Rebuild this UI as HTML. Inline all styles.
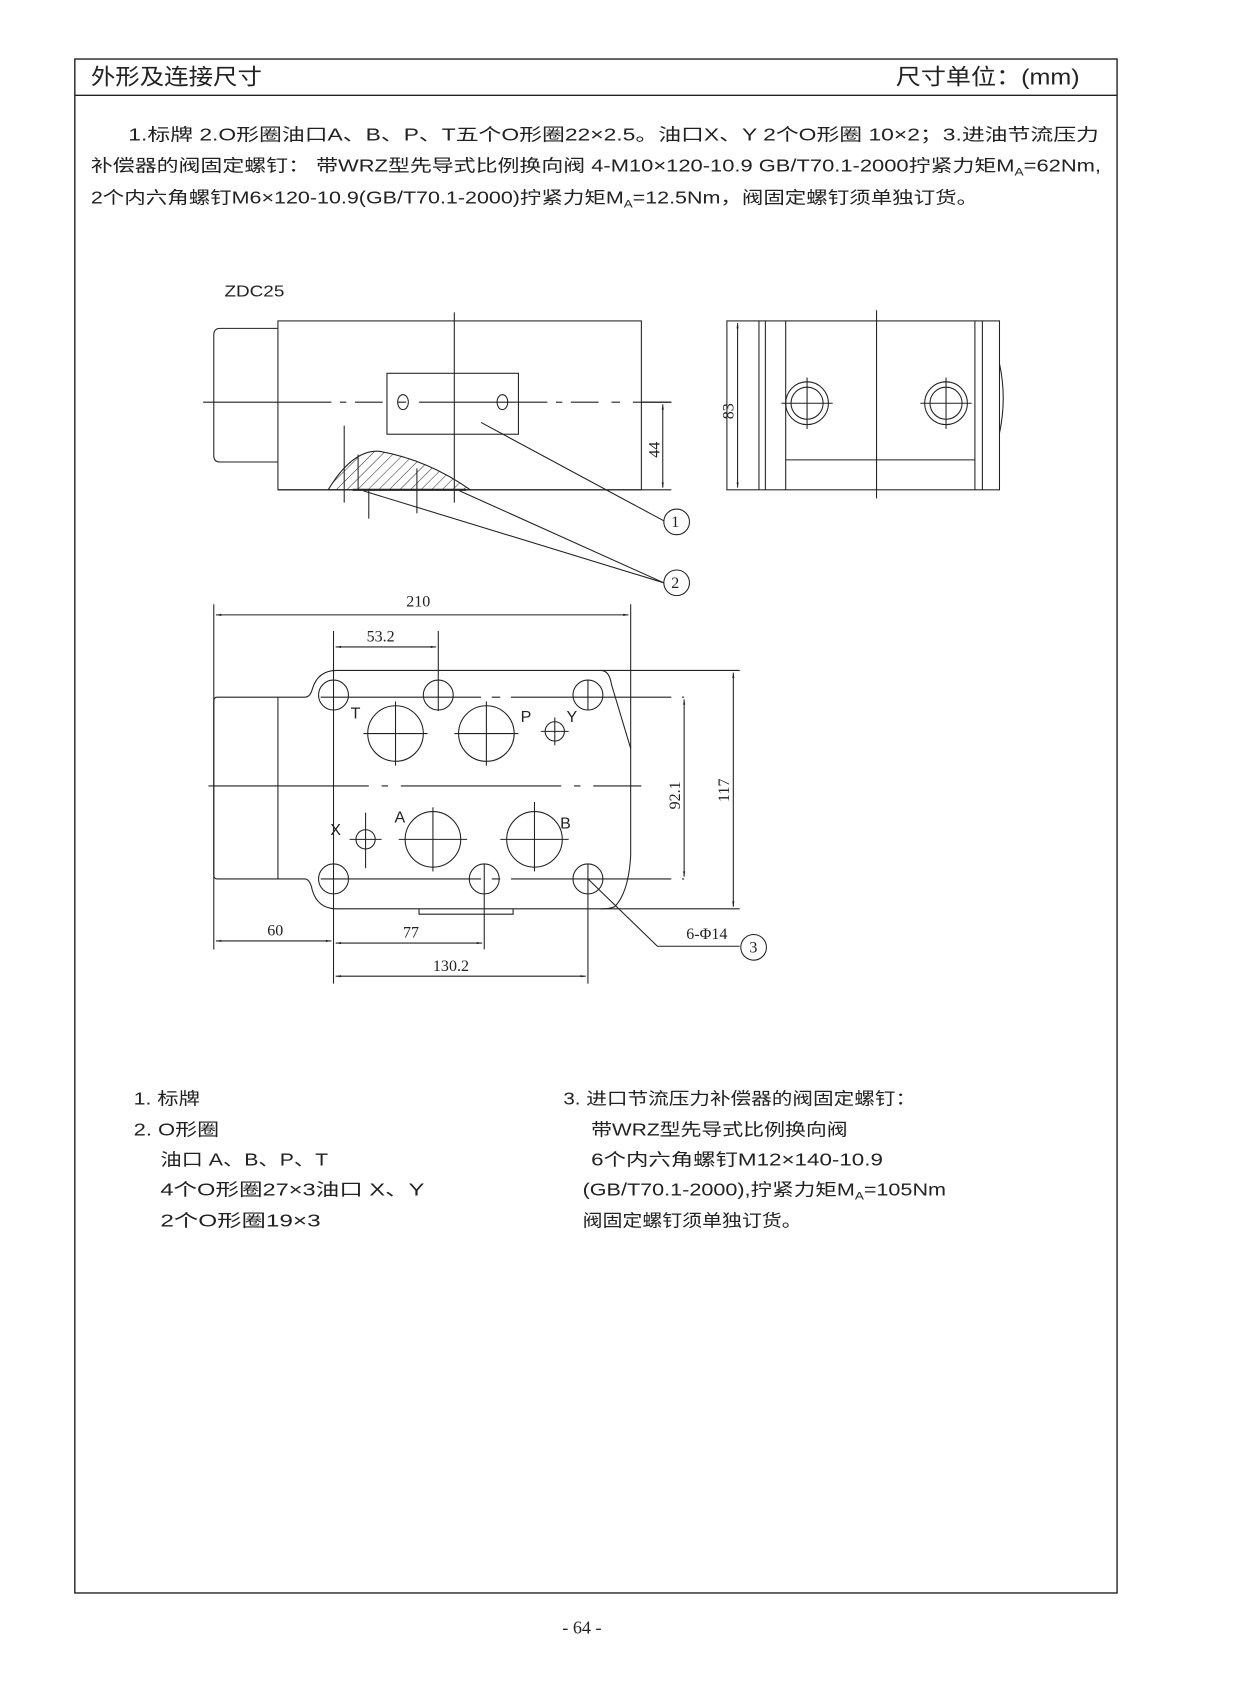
<!DOCTYPE html>
<html><head><meta charset="utf-8"><style>
html,body{margin:0;padding:0;background:#fff}
svg{display:block}
text{font-family:"Liberation Sans","Noto Sans CJK SC",sans-serif;fill:#222}
.s{font-family:"Liberation Serif","Noto Serif CJK SC",serif}
</style></head><body>
<svg width="1240" height="1683" viewBox="0 0 1160 1574" xmlns="http://www.w3.org/2000/svg">
<defs>
<marker id="a" viewBox="0 0 10 10" refX="10" refY="5" markerWidth="10" markerHeight="5" orient="auto-start-reverse" markerUnits="userSpaceOnUse"><path d="M0,3 L10,5 L0,7 z" fill="#222"/></marker>
<pattern id="h" width="7" height="7" patternUnits="userSpaceOnUse" patternTransform="rotate(45)"><line x1="0" y1="0" x2="0" y2="7" stroke="#333" stroke-width="1"/></pattern>
</defs>
<g fill="none" stroke="#222" stroke-width="1">
<rect x="70" y="55" width="975" height="1435" stroke-width="1.3"/>
<line x1="70" y1="89" x2="1045" y2="89" stroke-width="1.3"/>
</g>
<text x="85" y="79" font-size="21" textLength="160" lengthAdjust="spacingAndGlyphs">外形及连接尺寸</text>
<text x="838" y="79" font-size="21" textLength="172" lengthAdjust="spacingAndGlyphs">尺寸单位：(mm)</text>
<g font-size="16">
<text x="120" y="131" textLength="908" lengthAdjust="spacingAndGlyphs">1.标牌 2.O形圈油口A、B、P、T五个O形圈22×2.5。油口X、Y 2个O形圈 10×2；3.进油节流压力</text>
<text x="85" y="160" textLength="945" lengthAdjust="spacingAndGlyphs">补偿器的阀固定螺钉：  带WRZ型先导式比例换向阀 4-M10×120-10.9 GB/T70.1-2000拧紧力矩M<tspan font-size="10" dy="4">A</tspan><tspan dy="-4">=62Nm,</tspan></text>
<text x="85" y="190" textLength="830" lengthAdjust="spacingAndGlyphs">2个内六角螺钉M6×120-10.9(GB/T70.1-2000)拧紧力矩M<tspan font-size="10" dy="4">A</tspan><tspan dy="-4">=12.5Nm，阀固定螺钉须单独订货。</tspan></text>
</g>
<text x="210" y="277" font-size="15" textLength="56" lengthAdjust="spacingAndGlyphs">ZDC25</text>

<!-- top front view -->
<g fill="none" stroke="#222" stroke-width="1">
<path d="M260,307 H206 Q200,307 200,313 V426 Q200,432 206,432 H260"/>
<rect x="260" y="300" width="340" height="158"/>
<line x1="260" y1="458" x2="628" y2="458"/>
<line x1="425" y1="292" x2="425" y2="470"/>
<path d="M190,376 H358 M372,376 H380 M392,376 H560 M572,376 H580 M592,376 H628" stroke-dasharray="120,8,6,8"/>
<line x1="600" y1="376" x2="628" y2="376"/>
<rect x="362" y="349" width="123" height="57"/>
<ellipse cx="377" cy="376" rx="5" ry="7"/>
<ellipse cx="470" cy="376" rx="5" ry="7"/>
<line x1="620" y1="378" x2="620" y2="456" marker-start="url(#a)" marker-end="url(#a)"/>
<path d="M307,458 Q330,420 355,422 Q400,430 440,458 Z" fill="url(#h)"/>
<path d="M335,425 V458" />
<line x1="322" y1="398" x2="322" y2="470"/>
<line x1="345" y1="458" x2="345" y2="485"/>
<line x1="390" y1="438" x2="390" y2="480"/>
<line x1="330" y1="458" x2="436" y2="458" stroke-width="2"/>
<line x1="450" y1="395" x2="621" y2="487"/>
<circle cx="633" cy="488" r="12"/>
<line x1="340" y1="459" x2="621" y2="545"/>
<line x1="430" y1="459" x2="621" y2="545"/>
<circle cx="633" cy="545" r="12"/>
</g>
<text class="s" font-size="15" transform="translate(617,428) rotate(-90)">44</text>
<text class="s" font-size="15" x="628" y="493">1</text>
<text class="s" font-size="15" x="628" y="550">2</text>

<!-- side view -->
<g fill="none" stroke="#222" stroke-width="1">
<rect x="680" y="300" width="255" height="158"/>
<line x1="710" y1="300" x2="710" y2="458"/>
<line x1="716" y1="300" x2="716" y2="458"/>
<line x1="735" y1="300" x2="735" y2="458"/>
<line x1="912" y1="300" x2="912" y2="458"/>
<line x1="919" y1="300" x2="919" y2="458"/>
<line x1="735" y1="430" x2="912" y2="430"/>
<line x1="820" y1="290" x2="820" y2="466"/>
<path d="M935,340 Q942,372 935,405"/>
<circle cx="755" cy="377" r="20"/><circle cx="755" cy="377" r="15"/>
<line x1="731" y1="377" x2="779" y2="377"/><line x1="755" y1="353" x2="755" y2="401"/>
<circle cx="885" cy="377" r="20"/><circle cx="885" cy="377" r="15"/>
<line x1="861" y1="377" x2="909" y2="377"/><line x1="885" y1="353" x2="885" y2="401"/>
<line x1="690" y1="302" x2="690" y2="456" marker-start="url(#a)" marker-end="url(#a)"/>
</g>
<text class="s" font-size="15" transform="translate(686,392) rotate(-90)">83</text>

<!-- bottom view -->
<g fill="none" stroke="#222" stroke-width="1">
<line x1="200" y1="565" x2="200" y2="888"/>
<line x1="590" y1="565" x2="590" y2="700"/>
<line x1="202" y1="575" x2="588" y2="575" marker-start="url(#a)" marker-end="url(#a)"/>
<path d="M203,652 H285 Q290,652 292,645 Q297,627 315,627 H562 Q570,627 572,640 L590,700 V800 Q588,835 575,848 Q570,850 562,850 H315 Q297,850 292,832 Q290,822 285,822 H203 Q200,822 200,818 V656 Q200,652 203,652 Z"/>
<line x1="260" y1="652" x2="260" y2="822"/>
<path d="M392,850 V855 H480 V850"/>
<path d="M195,735 H600" stroke-dasharray="150,12,6,12"/>
<path d="M300,652 H640" stroke-dasharray="150,10,8,10"/>
<path d="M300,822 H640" stroke-dasharray="150,10,8,10"/>
<line x1="562" y1="627" x2="692" y2="627"/>
<line x1="562" y1="850" x2="692" y2="850"/>
<line x1="640" y1="654" x2="640" y2="820" marker-start="url(#a)" marker-end="url(#a)"/>
<line x1="686" y1="629" x2="686" y2="848" marker-start="url(#a)" marker-end="url(#a)"/>
<circle cx="312" cy="650" r="14"/><circle cx="410" cy="650" r="14"/><circle cx="550" cy="650" r="14"/>
<circle cx="312" cy="822" r="14"/><circle cx="453" cy="822" r="14"/><circle cx="550" cy="822" r="14"/>
<line x1="312" y1="590" x2="312" y2="920"/>
<line x1="410" y1="590" x2="410" y2="665"/>
<line x1="453" y1="808" x2="453" y2="888"/>
<line x1="550" y1="636" x2="550" y2="664"/>
<line x1="550" y1="808" x2="550" y2="920"/>
<circle cx="370" cy="686" r="26"/><line x1="340" y1="686" x2="400" y2="686"/><line x1="370" y1="656" x2="370" y2="716"/>
<circle cx="455" cy="686" r="26"/><line x1="425" y1="686" x2="485" y2="686"/><line x1="455" y1="656" x2="455" y2="716"/>
<circle cx="519" cy="684" r="9"/><line x1="506" y1="684" x2="532" y2="684"/><line x1="519" y1="671" x2="519" y2="697"/>
<circle cx="342" cy="785" r="9"/><line x1="327" y1="785" x2="357" y2="785"/><line x1="342" y1="760" x2="342" y2="812"/>
<circle cx="405" cy="785" r="26"/><line x1="373" y1="785" x2="437" y2="785"/><line x1="405" y1="755" x2="405" y2="815"/>
<circle cx="500" cy="785" r="26"/><line x1="468" y1="785" x2="532" y2="785"/><line x1="500" y1="750" x2="500" y2="815"/>
<line x1="314" y1="605" x2="408" y2="605" marker-start="url(#a)" marker-end="url(#a)"/>
<line x1="202" y1="880" x2="310" y2="880" marker-start="url(#a)" marker-end="url(#a)"/>
<line x1="314" y1="882" x2="451" y2="882" marker-start="url(#a)" marker-end="url(#a)"/>
<line x1="314" y1="913" x2="548" y2="913" marker-start="url(#a)" marker-end="url(#a)"/>
<polyline points="550,822 615,885 692,885"/>
<circle cx="705" cy="886" r="12"/>
</g>
<g class="s" font-size="15">
<text class="s" x="380" y="567">210</text>
<text class="s" x="343" y="600">53.2</text>
<text class="s" x="250" y="875">60</text>
<text class="s" x="377" y="877">77</text>
<text class="s" x="405" y="908">130.2</text>
<text class="s" x="642" y="878">6-Φ14</text>
<text class="s" x="701" y="891">3</text>
<text class="s" transform="translate(636,757) rotate(-90)">92.1</text>
<text class="s" transform="translate(682,750) rotate(-90)">117</text>
</g>
<g font-size="15">
<text x="328" y="672">T</text><text x="487" y="675">P</text><text x="530" y="675">Y</text>
<text x="309" y="781">X</text><text x="369" y="769">A</text><text x="524" y="775">B</text>
</g>

<g font-size="16">
<text x="125" y="1033" textLength="62" lengthAdjust="spacingAndGlyphs">1. 标牌</text>
<text x="125" y="1062" textLength="80" lengthAdjust="spacingAndGlyphs">2. O形圈</text>
<text x="150" y="1090" textLength="157" lengthAdjust="spacingAndGlyphs">油口 A、B、P、T</text>
<text x="150" y="1118" textLength="247" lengthAdjust="spacingAndGlyphs">4个O形圈27×3油口 X、Y</text>
<text x="150" y="1147" textLength="150" lengthAdjust="spacingAndGlyphs">2个O形圈19×3</text>
<text x="527" y="1033" textLength="330" lengthAdjust="spacingAndGlyphs">3. 进口节流压力补偿器的阀固定螺钉：</text>
<text x="553" y="1062" textLength="240" lengthAdjust="spacingAndGlyphs">带WRZ型先导式比例换向阀</text>
<text x="553" y="1090" textLength="273" lengthAdjust="spacingAndGlyphs">6个内六角螺钉M12×140-10.9</text>
<text x="545" y="1118" textLength="340" lengthAdjust="spacingAndGlyphs">(GB/T70.1-2000),拧紧力矩M<tspan font-size="10" dy="4">A</tspan><tspan dy="-4">=105Nm</tspan></text>
<text x="545" y="1147" textLength="205" lengthAdjust="spacingAndGlyphs">阀固定螺钉须单独订货。</text>
</g>
<text class="s" x="526" y="1528" font-size="17">- 64 -</text>
</svg>
</body></html>
